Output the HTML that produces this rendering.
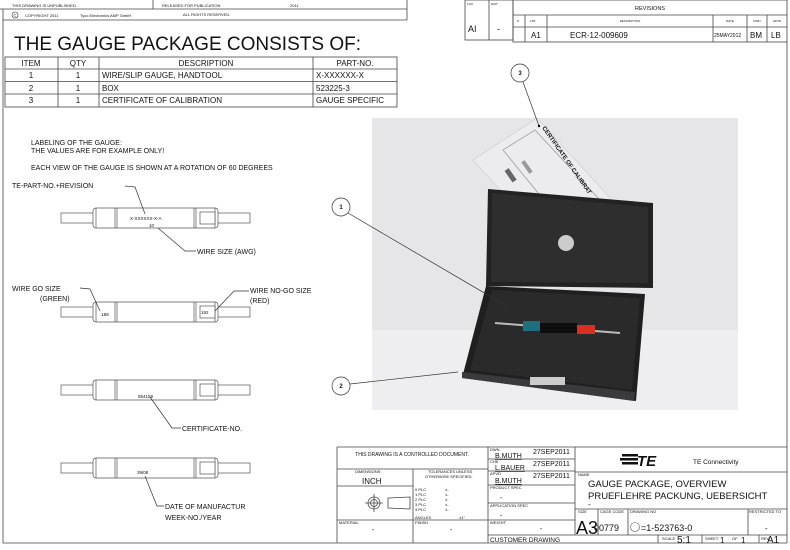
<!DOCTYPE html>
<html><head><meta charset="utf-8"><style>
html,body{margin:0;padding:0;background:#fff}
svg{display:block}
text{font-family:"Liberation Sans",sans-serif;fill:#111}
</style></head><body>
<svg width="790" height="550" viewBox="0 0 790 550" xmlns="http://www.w3.org/2000/svg">
<g stroke="#444" stroke-width="0.8" fill="none">
<line x1="3" y1="9" x2="3" y2="543"/>
<line x1="3" y1="543" x2="787" y2="543"/>
<line x1="787" y1="42" x2="787" y2="543"/>
<line x1="0" y1="9" x2="407" y2="9"/>
<line x1="3" y1="20" x2="407" y2="20"/>
<line x1="407" y1="0" x2="407" y2="20"/>
<line x1="153" y1="0" x2="153" y2="9"/>
<rect x="465" y="0" width="48" height="40"/>
<line x1="489" y1="0" x2="489" y2="40"/>
<rect x="513" y="0" width="274" height="42"/>
<line x1="513" y1="15" x2="787" y2="15"/>
<line x1="513" y1="27" x2="787" y2="27"/>
<line x1="525" y1="15" x2="525" y2="42"/>
<line x1="547" y1="15" x2="547" y2="42"/>
<line x1="713" y1="15" x2="713" y2="42"/>
<line x1="747" y1="15" x2="747" y2="42"/>
<line x1="767" y1="15" x2="767" y2="42"/>
<rect x="5" y="57" width="392" height="50"/>
<line x1="5" y1="69" x2="397" y2="69"/>
<line x1="5" y1="81.5" x2="397" y2="81.5"/>
<line x1="5" y1="94" x2="397" y2="94"/>
<line x1="58" y1="57" x2="58" y2="107"/>
<line x1="99" y1="57" x2="99" y2="107"/>
<line x1="313" y1="57" x2="313" y2="107"/>
</g>
<text x="12" y="7" font-size="4">THIS DRAWING IS UNPUBLISHED.</text>
<text x="162" y="7" font-size="4">RELEASED FOR PUBLICATION</text>
<text x="290" y="7" font-size="4">2011</text>
<circle cx="15" cy="15" r="3" fill="none" stroke="#333" stroke-width="0.6"/>
<text x="13.5" y="16.5" font-size="4">C</text>
<text x="25" y="17" font-size="4">COPYRIGHT  2011</text>
<text x="80" y="17" font-size="4">Tyco Electronics AMP GmbH</text>
<text x="183" y="16" font-size="4">ALL RIGHTS RESERVED.</text>
<text x="467" y="5" font-size="3">LOC</text><text x="491" y="5" font-size="3">DIST</text>
<text x="468" y="32" font-size="9">AI</text><text x="497" y="32" font-size="9">-</text>
<text x="650" y="10" font-size="5.5" text-anchor="middle">REVISIONS</text>
<text x="517" y="22" font-size="3">P</text><text x="530" y="22" font-size="3">LTR</text>
<text x="630" y="22" font-size="3" text-anchor="middle">DESCRIPTION</text>
<text x="730" y="22" font-size="3" text-anchor="middle">DATE</text>
<text x="757" y="22" font-size="3" text-anchor="middle">DWN</text>
<text x="777" y="22" font-size="3" text-anchor="middle">APVD</text>
<text x="531" y="38" font-size="8">A1</text>
<text x="570" y="38" font-size="8">ECR-12-009609</text>
<text x="714" y="37" font-size="5">25MAY2012</text>
<text x="750" y="38" font-size="8">BM</text>
<text x="771" y="38" font-size="8">LB</text>

<text x="14" y="50" font-size="19">THE GAUGE PACKAGE CONSISTS OF:</text>
<g font-size="8">
<text x="31" y="66" text-anchor="middle">ITEM</text><text x="78" y="66" text-anchor="middle">QTY</text>
<text x="206" y="66" text-anchor="middle">DESCRIPTION</text><text x="355" y="66" text-anchor="middle">PART-NO.</text>
<text x="31" y="78" text-anchor="middle">1</text><text x="78" y="78" text-anchor="middle">1</text>
<text x="102" y="78">WIRE/SLIP GAUGE, HANDTOOL</text><text x="316" y="78">X-XXXXXX-X</text>
<text x="31" y="91" text-anchor="middle">2</text><text x="78" y="91" text-anchor="middle">1</text>
<text x="102" y="91">BOX</text><text x="316" y="91">523225-3</text>
<text x="31" y="103" text-anchor="middle">3</text><text x="78" y="103" text-anchor="middle">1</text>
<text x="102" y="103">CERTIFICATE OF CALIBRATION</text><text x="316" y="103">GAUGE SPECIFIC</text>
</g>
<g font-size="7">
<text x="31" y="145">LABELING OF THE GAUGE:</text>
<text x="31" y="153">THE VALUES ARE FOR EXAMPLE ONLY!</text>
<text x="31" y="170">EACH VIEW OF THE GAUGE IS SHOWN AT A ROTATION OF 60 DEGREES</text>
<text x="12" y="188">TE-PART-NO.+REVISION</text>
<text x="197" y="254">WIRE SIZE (AWG)</text>
<text x="12" y="291">WIRE GO SIZE</text><text x="40" y="301">(GREEN)</text>
<text x="250" y="293">WIRE NO-GO SIZE</text><text x="250" y="303">(RED)</text>
<text x="182" y="431">CERTIFICATE-NO.</text>
<text x="165" y="509">DATE OF MANUFACTUR</text><text x="165" y="520">WEEK-NO./YEAR</text>
</g>
<defs>
<g id="gauge" stroke="#555" stroke-width="0.7" fill="#fff">
<rect x="61" y="-5" width="189" height="10"/>
<rect x="93" y="-10" width="125" height="20" rx="3"/>
<line x1="96" y1="-10" x2="96" y2="10"/>
<line x1="115" y1="-10" x2="115" y2="10"/><line x1="117" y1="-10" x2="117" y2="10"/>
<line x1="194" y1="-10" x2="194" y2="10"/><line x1="196" y1="-10" x2="196" y2="10"/>
<line x1="215" y1="-10" x2="215" y2="10"/>
<rect x="200" y="-6" width="15" height="12"/>
</g>
</defs>
<use href="#gauge" transform="translate(0,218)"/>
<use href="#gauge" transform="translate(0,312)"/>
<use href="#gauge" transform="translate(0,390)"/>
<use href="#gauge" transform="translate(0,468)"/>
<g font-size="4.5">
<text x="130" y="220">X-XXXXXX-X-A</text><text x="149" y="227">10</text>
<text x="100" y="316">.188</text><text x="201" y="314">192</text>
<text x="138" y="398">954159</text><text x="137" y="474">39/08</text>
</g>
<g stroke="#333" stroke-width="0.7" fill="none">
<polyline points="125,186 135,187 145,214"/>
<polyline points="158,228 185,251 196,251"/>
<polyline points="80,288 90,289 100,311"/>
<polyline points="249,291 234,291 215,311"/>
<polyline points="150,397 172,428 181,428"/>
<polyline points="145,476 157,506 164,506"/>
</g>

<!-- photo -->
<rect x="372" y="118" width="366" height="292" fill="#e6e6e8"/>
<rect x="372" y="330" width="366" height="80" fill="#eeeef0"/>
<polygon points="473,160 537,118 612,200 560,255" fill="#ececee" stroke="#bbb" stroke-width="0.5"/>
<polygon points="503,150 535,130 600,200 570,232" fill="none" stroke="#888" stroke-width="0.6"/>
<rect x="508" y="168" width="5" height="14" fill="#666" transform="rotate(-35 511 175)"/>
<rect x="520" y="165" width="14" height="4" fill="#999" transform="rotate(55 527 167)"/>
<text x="542" y="128" font-size="6" font-weight="bold" transform="rotate(55 542 128)">CERTIFICATE OF CALIBRAT</text>
<polygon points="488,189 653,203 653,288 486,286" fill="#222"/>
<polygon points="492,193 648,207 648,283 491,282" fill="#2e2e2e"/>
<circle cx="566" cy="243" r="8" fill="#ccc"/>
<polygon points="486,286 645,294 636,401 462,378" fill="#1f1f1f"/>
<polygon points="462,372 635,392 634,401 462,378" fill="#3a3a3c"/>
<polygon points="492,290 640,298 632,390 470,370" fill="#2a2a2a"/>
<line x1="495" y1="323" x2="620" y2="333" stroke="#bbb" stroke-width="2"/>
<rect x="523" y="321" width="17" height="10" fill="#1e6f7f"/>
<rect x="540" y="323" width="37" height="10" fill="#0e0e0e"/>
<rect x="577" y="325" width="18" height="9" fill="#d83020"/>
<rect x="530" y="377" width="35" height="8" fill="#ccc"/>

<g stroke="#333" stroke-width="0.7" fill="#fff">
<line x1="523" y1="82" x2="539" y2="126"/>
<line x1="348" y1="213" x2="510" y2="308"/>
<line x1="350" y1="384" x2="458" y2="372"/>
<circle cx="520" cy="73" r="9"/>
<circle cx="341" cy="207" r="9"/>
<circle cx="341" cy="386" r="9"/>
</g>
<circle cx="539" cy="126" r="1.2" fill="#000"/>
<g font-size="6" font-weight="bold" text-anchor="middle">
<text x="520" y="75">3</text><text x="341" y="209">1</text><text x="341" y="388">2</text>
</g>

<g stroke="#444" stroke-width="0.8" fill="none">
<line x1="337" y1="447" x2="787" y2="447"/>
<line x1="337" y1="447" x2="337" y2="543"/>
<line x1="413" y1="469" x2="413" y2="543"/>
<line x1="488" y1="447" x2="488" y2="543"/>
<line x1="575" y1="447" x2="575" y2="535"/>
<line x1="337" y1="469" x2="488" y2="469"/>
<line x1="337" y1="486" x2="413" y2="486"/>
<line x1="337" y1="520" x2="488" y2="520"/>
<line x1="488" y1="459" x2="575" y2="459"/>
<line x1="488" y1="471" x2="575" y2="471"/>
<line x1="488" y1="485" x2="575" y2="485"/>
<line x1="488" y1="503" x2="575" y2="503"/>
<line x1="488" y1="520" x2="575" y2="520"/>
<line x1="488" y1="535" x2="787" y2="535"/>
<line x1="575" y1="472" x2="787" y2="472"/>
<line x1="575" y1="509" x2="787" y2="509"/>
<line x1="598" y1="509" x2="598" y2="535"/>
<line x1="628" y1="509" x2="628" y2="535"/>
<line x1="748" y1="509" x2="748" y2="535"/>
<line x1="658" y1="535" x2="658" y2="543"/>
<line x1="702" y1="535" x2="702" y2="543"/>
<line x1="759" y1="535" x2="759" y2="543"/>
<circle cx="374" cy="503" r="6"/><circle cx="374" cy="503" r="3.5"/>
<line x1="365" y1="503" x2="383" y2="503"/><line x1="374" y1="494" x2="374" y2="512"/>
<polygon points="388,498 410,497 410,509 388,508"/>
</g>
<g font-size="4">
<text x="412" y="456" text-anchor="middle" font-size="5">THIS DRAWING IS A CONTROLLED DOCUMENT.</text>
<text x="355" y="473">DIMENSIONS:</text>
<text x="428" y="473">TOLERANCES UNLESS</text><text x="425" y="478">OTHERWISE SPECIFIED:</text>
<text x="415" y="491">0 PLC</text><text x="445" y="491">±-</text>
<text x="415" y="496">1 PLC</text><text x="445" y="496">±-</text>
<text x="415" y="501">2 PLC</text><text x="445" y="501">±-</text>
<text x="415" y="506">3 PLC</text><text x="445" y="506">±-</text>
<text x="415" y="511">4 PLC</text><text x="445" y="511">±-</text>
<text x="415" y="519">ANGLES</text><text x="459" y="519">±1°</text>
<text x="339" y="524">MATERIAL</text><text x="415" y="524">FINISH</text>
<text x="490" y="451">DWN</text><text x="490" y="463">CHK</text><text x="490" y="475">APVD</text>
<text x="490" y="489">PRODUCT SPEC</text><text x="490" y="507">APPLICATION SPEC</text>
<text x="490" y="524">WEIGHT</text>
<text x="578" y="476">NAME</text>
<text x="578" y="513">SIZE</text><text x="600" y="513">CAGE CODE</text><text x="630" y="513">DRAWING NO</text>
<text x="749" y="513">RESTRICTED TO</text>
<text x="662" y="540">SCALE</text><text x="705" y="540">SHEET</text><text x="732" y="540">OF</text><text x="761" y="540">REV</text>
</g>
<text x="362" y="484" font-size="8">INCH</text>
<g font-size="7">
<text x="372" y="532">-</text><text x="450" y="532">-</text>
<text x="495" y="458" text-decoration="underline">B.MUTH</text><text x="533" y="454">27SEP2011</text>
<text x="495" y="470" text-decoration="underline">L.BAUER</text><text x="533" y="466">27SEP2011</text>
<text x="495" y="483" text-decoration="underline">B.MUTH</text><text x="533" y="478">27SEP2011</text>
<text x="500" y="500">-</text><text x="500" y="518">-</text><text x="540" y="531">-</text>
<text x="490" y="542" font-size="6.5">CUSTOMER DRAWING</text>
</g>
<g fill="#111">
<rect x="622" y="454" width="16" height="2.5"/><rect x="620" y="458" width="18" height="2.5"/><rect x="622" y="462" width="16" height="2.5"/>
</g>
<text x="637" y="466" font-size="15" font-weight="bold" font-style="italic">TE</text>
<text x="693" y="464" font-size="6.5">TE Connectivity</text>
<text x="588" y="487" font-size="9.5">GAUGE PACKAGE, OVERVIEW</text>
<text x="588" y="499" font-size="9.5">PRUEFLEHRE PACKUNG, UEBERSICHT</text>
<text x="588" y="507" font-size="8">-</text>
<text x="576" y="534" font-size="18">A3</text>
<text x="594" y="531" font-size="9">00779</text>
<circle cx="635" cy="527" r="4.5" fill="none" stroke="#555" stroke-width="0.6"/>
<text x="641" y="531" font-size="9">=1-523763-0</text>
<text x="765" y="531" font-size="8">-</text>
<text x="677" y="543" font-size="10">5:1</text>
<text x="720" y="543" font-size="8">1</text><text x="741" y="543" font-size="8">1</text>
<text x="767" y="543" font-size="10">A1</text>
</svg>
</body></html>
